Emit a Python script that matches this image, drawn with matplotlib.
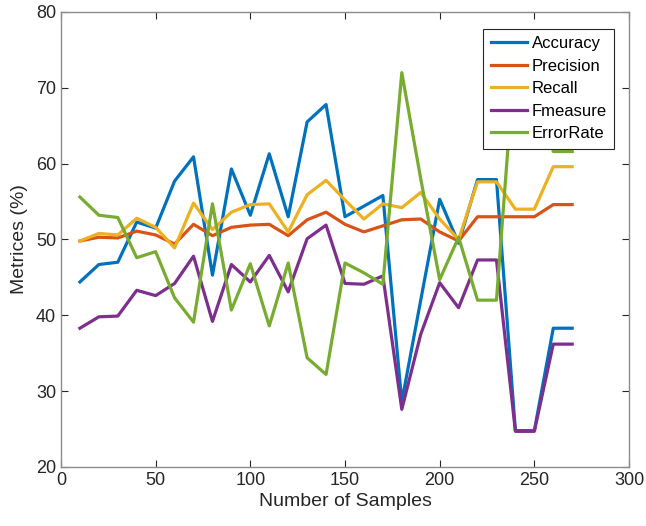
import numpy as np
import matplotlib
matplotlib.use("Agg")
import matplotlib.pyplot as plt

samples = list(range(10, 280, 10))

accuracy = [44.4, 46.7, 47.0, 52.3, 51.5, 57.7, 60.9, 45.3, 59.3, 53.2,
            61.3, 53.0, 65.5, 67.8, 53.0, 54.4, 55.8, 28.6, 42.0, 55.3,
            49.5, 57.9, 57.9, 24.8, 24.8, 38.3, 38.3]
precision = [49.8, 50.3, 50.2, 51.1, 50.6, 49.4, 52.0, 50.5, 51.6, 51.9,
             52.0, 50.5, 52.6, 53.6, 52.0, 51.0, 51.8, 52.6, 52.7, 51.0,
             49.8, 53.0, 53.0, 53.0, 53.0, 54.6, 54.6]
recall = [49.8, 50.8, 50.6, 52.8, 51.6, 48.9, 54.8, 51.3, 53.6, 54.6,
          54.7, 51.0, 55.9, 57.8, 55.2, 52.7, 54.7, 54.2, 56.2, 52.7,
          50.0, 57.6, 57.6, 54.0, 54.0, 59.6, 59.6]
fmeasure = [38.3, 39.8, 39.9, 43.3, 42.6, 44.2, 47.8, 39.2, 46.7, 44.4,
            47.9, 43.1, 50.1, 51.9, 44.2, 44.1, 45.2, 27.6, 37.5, 44.3,
            41.0, 47.3, 47.3, 24.7, 24.7, 36.2, 36.2]
error_rate = [55.6, 53.2, 52.9, 47.6, 48.4, 42.3, 39.1, 54.7, 40.7, 46.8,
              38.6, 46.9, 34.4, 32.2, 46.9, 45.6, 44.1, 72.0, 58.0, 44.7,
              50.3, 42.0, 42.0, 75.2, 75.2, 61.6, 61.6]

names = ["Accuracy", "Precision", "Recall", "Fmeasure", "ErrorRate"]
colors = ["#0072BD", "#D95319", "#EDB120", "#7E2F8E", "#77AC30"]

plt.rcParams['font.family'] = ['Liberation Sans', 'DejaVu Sans']

fig = plt.figure(figsize=(6.46, 5.26), dpi=100)
ax = fig.add_axes([0.0944, 0.1122, 0.8793, 0.865])

for ys, name, c in zip([accuracy, precision, recall, fmeasure, error_rate], names, colors):
    ax.plot(samples, ys, color=c, lw=2.3, label=name)

ax.set_xlim(0, 300)
ax.set_ylim(20, 80)
ax.set_xticks(range(0, 301, 50))
ax.set_yticks(range(20, 81, 10))
ax.tick_params(direction='in', top=True, right=True, labelsize=13,
               length=5, color='#262626', labelcolor='#262626')
for s in ax.spines.values():
    s.set_color('#8c8c8c')
    s.set_linewidth(1.0)

ax.set_xlabel("Number of Samples", fontsize=14, color='#262626', labelpad=3)
ax.set_ylabel("Metrices (%)", fontsize=14, color='#262626', labelpad=6)

# legend box placed like the matlab one (top right, inside)
leg = ax.legend(loc='upper right', bbox_to_anchor=(0.974, 0.963), fontsize=12,
                fancybox=False, framealpha=1, edgecolor='#262626',
                handlelength=2.2, handletextpad=0.25, labelspacing=0.45,
                borderpad=0.45, borderaxespad=0)
leg.get_frame().set_linewidth(0.8)

fig.savefig("out.png", dpi=100)
